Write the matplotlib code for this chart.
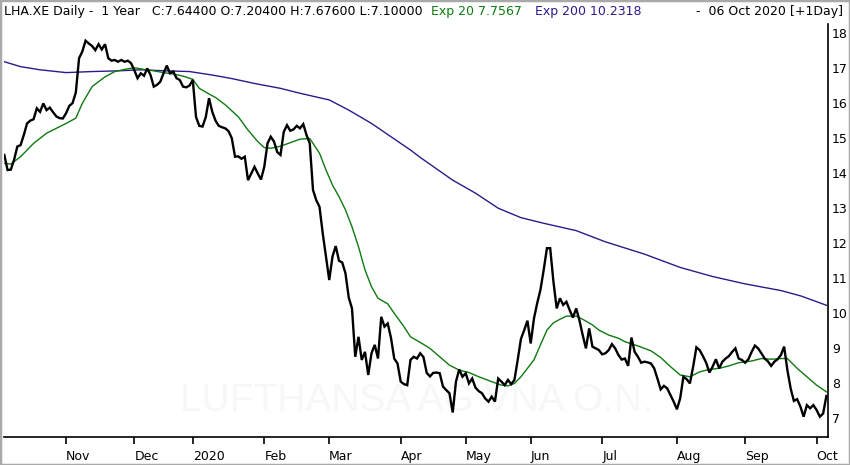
import pandas as pd
import matplotlib
matplotlib.use("Agg")
from matplotlib import pyplot as plt
from matplotlib.patches import Rectangle

# trading calendar (Xetra), one year up to 06 Oct 2020
first_day = "2019-10-07"
last_day = "2020-10-06"
holidays = ["2019-12-24", "2019-12-25", "2019-12-26", "2019-12-31",
            "2020-01-01", "2020-04-10", "2020-04-13", "2020-05-01"]

# daily close, one value per session
close = [
    14.52, 14.09, 14.10, 14.38, 14.76, 14.80, 15.09, 15.42, 15.50, 15.54,
    15.85, 15.75, 15.99, 15.80, 15.87, 15.74, 15.62, 15.57, 15.56, 15.71,
    15.92, 16.00, 16.30, 17.28, 17.47, 17.78, 17.70, 17.63, 17.51, 17.68,
    17.53, 17.68, 17.28, 17.21, 17.23, 17.18, 17.23, 17.18, 17.21, 17.14,
    16.94, 16.71, 16.85, 16.78, 16.99, 16.80, 16.47, 16.52, 16.61, 16.85,
    17.07, 16.85, 16.90, 16.71, 16.66, 16.47, 16.45, 16.50, 16.66, 15.60,
    15.35, 15.33, 15.60, 16.14, 15.75, 15.50, 15.35, 15.31, 15.28, 15.20,
    15.00, 14.47, 14.48, 14.41, 14.47, 13.80, 13.99, 14.18, 13.99, 13.82,
    14.18, 14.85, 15.04, 14.90, 14.60, 14.52, 15.18, 15.37, 15.21, 15.25,
    15.35, 15.28, 15.40, 15.09, 14.85, 13.52, 13.23, 13.04, 12.28, 11.62,
    10.95, 11.62, 11.92, 11.50, 11.45, 11.14, 10.45, 10.14, 8.76, 9.33,
    8.67, 8.90, 8.24, 8.86, 9.10, 8.71, 9.90, 9.62, 9.71, 9.30,
    8.71, 8.57, 8.05, 7.98, 7.95, 8.67, 8.76, 8.71, 8.86, 8.75,
    8.30, 8.20, 8.30, 8.31, 8.29, 7.91, 7.81, 7.72, 7.17, 8.05,
    8.40, 8.19, 8.29, 8.00, 8.14, 7.88, 7.78, 7.72, 7.57, 7.48,
    7.62, 7.48, 8.14, 8.05, 7.95, 8.10, 7.98, 8.10, 8.67, 9.27,
    9.52, 9.79, 9.14, 9.85, 10.29, 10.67, 11.24, 11.86, 11.86, 10.90,
    10.14, 10.43, 10.24, 10.33, 10.09, 9.88, 10.14, 9.80, 9.38, 9.00,
    9.57, 9.05, 9.00, 8.95, 8.83, 8.86, 8.95, 9.12, 9.00, 8.81,
    8.68, 8.71, 8.50, 9.31, 8.90, 8.76, 8.59, 8.62, 8.60, 8.57,
    8.43, 8.14, 7.83, 7.93, 7.86, 7.67, 7.48, 7.26, 7.57, 8.19,
    8.12, 8.00, 8.48, 9.03, 8.95, 8.78, 8.59, 8.31, 8.48, 8.69,
    8.43, 8.62, 8.71, 8.78, 8.90, 9.00, 8.71, 8.67, 8.59, 8.69,
    8.90, 9.08, 9.00, 8.86, 8.71, 8.63, 8.50, 8.62, 8.69, 8.81,
    9.05, 8.38, 7.86, 7.50, 7.55, 7.34, 7.05, 7.38, 7.29, 7.38,
    7.24, 7.05, 7.14, 7.64,
]

# exponential averages, read at sample sessions
ema20_session = [0, 2, 5, 9, 13, 16, 19, 22, 24, 27, 31, 34, 37, 40, 43, 46,
                 49, 52, 55, 58, 60, 63, 65, 68, 72, 75, 78, 80, 82, 85, 88,
                 91, 94, 95, 97, 99, 101, 103, 105, 107, 109, 111, 113, 115,
                 118, 120, 123, 125, 128, 131, 134, 137, 140, 143, 146, 150,
                 153, 155, 157, 159, 161, 163, 165, 167, 169, 171, 173, 176,
                 178, 181, 183, 186, 189, 191, 195, 199, 202, 205, 208, 211,
                 214, 217, 220, 223, 226, 230, 233, 236, 239, 241, 244, 247,
                 250, 253]
ema20 = [14.28, 14.26, 14.47, 14.85, 15.14, 15.28, 15.42, 15.57, 15.99, 16.47,
         16.75, 16.90, 16.96, 17.01, 16.96, 16.92, 16.87, 16.83, 16.77, 16.68,
         16.42, 16.26, 16.16, 15.95, 15.61, 15.23, 14.90, 14.73, 14.71, 14.77,
         14.87, 14.97, 14.99, 14.85, 14.57, 14.09, 13.66, 13.33, 12.95, 12.47,
         11.90, 11.24, 10.76, 10.43, 10.27, 10.00, 9.62, 9.33, 9.17, 9.00,
         8.76, 8.52, 8.38, 8.31, 8.19, 8.05, 7.95, 7.93, 8.00, 8.19,
         8.43, 8.67, 9.10, 9.52, 9.73, 9.83, 9.92, 9.92, 9.83, 9.67,
         9.52, 9.38, 9.29, 9.19, 9.07, 8.93, 8.74, 8.48, 8.24, 8.19,
         8.33, 8.40, 8.43, 8.50, 8.59, 8.64, 8.71, 8.69, 8.71, 8.71,
         8.43, 8.19, 7.95, 7.76]

ema200_session = [0, 5, 11, 19, 27, 35, 42, 50, 57, 64, 70, 77, 85, 91, 100,
                  106, 113, 119, 125, 128, 138, 145, 152, 159, 166, 176, 185,
                  197, 208, 218, 228, 239, 245, 248, 253]
ema200 = [17.18, 17.04, 16.95, 16.87, 16.90, 16.92, 16.95, 16.92, 16.90, 16.80,
          16.70, 16.56, 16.42, 16.28, 16.09, 15.80, 15.42, 15.04, 14.66, 14.45,
          13.80, 13.43, 13.00, 12.73, 12.57, 12.36, 12.04, 11.69, 11.31, 11.05,
          10.84, 10.65, 10.50, 10.40, 10.23]

price_ticks = [7, 8, 9, 10, 11, 12, 13, 14, 15, 16, 17, 18]

header = "LHA.XE Daily -  1 Year   C:7.64400 O:7.20400 H:7.67600 L:7.10000"
header_ema20 = "Exp 20 7.7567"
header_ema200 = "Exp 200 10.2318"
header_date = "-  06 Oct 2020 [+1Day]"
watermark = "LUFTHANSA AG VNA O.N."

col_close = "black"
col_ema20 = "#0d7a10"
col_ema200 = "#2c1a8c"

########### calendar

sessions = pd.bdate_range(first_day, last_day)
sessions = sessions[~sessions.isin(pd.to_datetime(holidays))]
month_start = [i for i in range(1, len(sessions))
               if sessions[i].month != sessions[i - 1].month]
month_label = ["2020" if sessions[i].month == 1 else sessions[i].strftime("%b")
               for i in month_start]

########### plot

plt.rcParams['font.family'] = ['DejaVu Sans']
W, H = 850, 465
fig = plt.figure(figsize=(W / 100, H / 100), dpi=100)
fig.patch.set_facecolor("white")

ax = fig.add_axes([4 / W, 27.7 / H, 824 / W, 413.3 / H])
ax.set_xlim(-0.1, 253.5)
ax.set_ylim(6.462, 18.257)

ax.text(0.501, 0.088, watermark, transform=ax.transAxes, ha="center", va="center",
        fontsize=28, family="Liberation Sans", color="#f7f7f7", zorder=0)

ax.plot(ema200_session, ema200, color=col_ema200, lw=1.0, zorder=2)
ax.plot(ema20_session, ema20, color=col_ema20, lw=1.0, zorder=3)
ax.plot(range(len(close)), close, color=col_close, lw=1.7, zorder=4,
        solid_joinstyle="miter")

for s in ["top", "left"]:
    ax.spines[s].set_visible(False)
for s in ["right", "bottom"]:
    ax.spines[s].set_linewidth(1.2)
    ax.spines[s].set_color("black")

ax.yaxis.tick_right()
ax.set_yticks(price_ticks)
ax.set_yticklabels([str(t) for t in price_ticks])
ax.tick_params(axis="y", length=0, pad=3, labelsize=9)

ax.set_xticks(month_start)
ax.set_xticklabels(month_label, ha="left")
ax.tick_params(axis="x", direction="out", length=5, width=1.2, pad=4, labelsize=9)

ty = 1 - 11.5 / H
fig.text(4 / W, ty, header, ha="left", va="center", fontsize=9, color="black")
fig.text(431 / W, ty, header_ema20, ha="left", va="center", fontsize=9, color=col_ema20)
fig.text(535 / W, ty, header_ema200, ha="left", va="center", fontsize=9, color=col_ema200)
fig.text(843 / W, ty, header_date, ha="right", va="center", fontsize=9, color="black")

fig.patches.append(Rectangle((0, 0), 1, 1, transform=fig.transFigure, fill=False,
                             edgecolor="#a9a9a9", lw=2.5))

fig.savefig("out.png", dpi=100)
